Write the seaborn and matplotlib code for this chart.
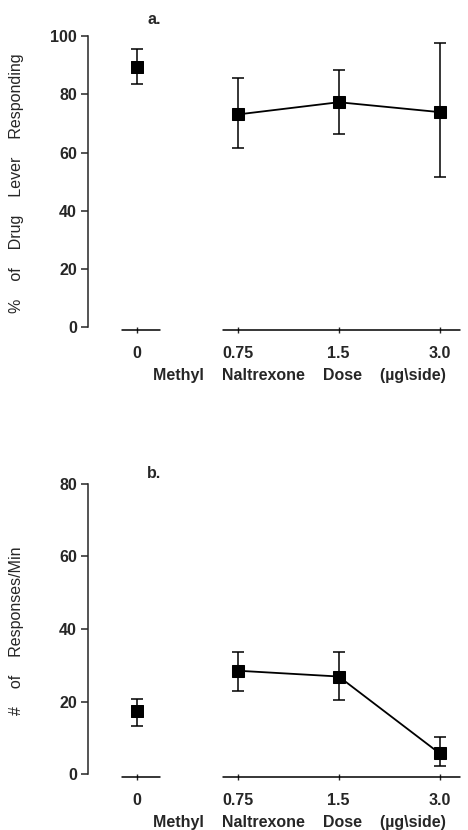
import numpy as np
import pandas as pd
import matplotlib
matplotlib.use("Agg")
import matplotlib.pyplot as plt
import seaborn as sns

# values
dose_labels = ["0", "0.75", "1.5", "3.0"]
dose_pos = [0, 1, 2, 3]

drug_mean = [89.5, 73.1, 77.3, 73.9]
drug_low = [83.6, 61.7, 66.4, 51.6]
drug_high = [95.5, 85.7, 88.3, 97.5]

rate_mean = [17.3, 28.5, 26.9, 5.7]
rate_low = [13.3, 22.9, 20.3, 2.2]
rate_high = [20.7, 33.7, 33.7, 10.2]

sns.set_style("ticks")
plt.rcParams['font.family'] = ['Liberation Sans', 'DejaVu Sans']

fig = plt.figure(figsize=(4.68, 8.30), dpi=100)
ax_a = fig.add_axes([0.188, 0.6024, 0.801, 0.354])
ax_b = fig.add_axes([0.188, 0.0639, 0.801, 0.353])


def draw_panel(ax, mean, low, high, ymax, ylabel):
    df = pd.DataFrame({"pos": dose_pos, "mean": mean,
                       "low": low, "high": high})
    yerr = [df["mean"] - df["low"], df["high"] - df["mean"]]
    ax.errorbar(df["pos"], df["mean"], yerr=yerr, fmt="none",
                ecolor="black", elinewidth=1.1, capsize=4, capthick=1.1,
                zorder=2)
    # the control point stands alone, the doses are connected
    sns.lineplot(data=df[df["pos"] > 0], x="pos", y="mean", ax=ax,
                 color="black", lw=1.3, marker="s", markersize=9,
                 markeredgecolor="black", zorder=3)
    sns.scatterplot(data=df[df["pos"] == 0], x="pos", y="mean", ax=ax,
                    color="black", marker="s", s=81, edgecolor="black",
                    zorder=3)

    ax.set_xlim(-0.485, 3.23)
    ax.set_ylim(-0.01 * ymax, ymax)
    ax.set_yticks(np.arange(0, ymax + 1, 20))
    ax.set_xticks(dose_pos)
    ax.set_xticklabels(dose_labels)

    sns.despine(ax=ax, top=True, right=True, bottom=True)
    ax.spines['left'].set_bounds(0, ymax)
    ax.spines['left'].set_linewidth(1.1)

    # broken x axis: control segment and dose segment
    tr = ax.get_xaxis_transform()
    ax.plot([dose_pos[0] - 0.15, dose_pos[0] + 0.23], [0, 0], color="black",
            lw=1.1, transform=tr, clip_on=False)
    ax.plot([dose_pos[1] - 0.15, dose_pos[3] + 0.2], [0, 0], color="black",
            lw=1.1, transform=tr, clip_on=False)

    ax.tick_params(axis="y", direction="out", length=5, width=1.1, pad=3,
                   labelsize=11.5)
    ax.tick_params(axis="x", direction="inout", length=5, width=1,
                   pad=9, labelsize=11.5)
    for t in ax.get_xticklabels() + ax.get_yticklabels():
        t.set_fontweight("bold")

    ax.set_ylabel(ylabel, fontsize=11.5, va="center")
    ax.yaxis.set_label_coords(-0.19, 0.5)
    ax.set_xlabel("Methyl    Naltrexone    Dose    (\u00b5g\\side)",
                  fontsize=11.5, fontweight="bold", va="center")
    ax.xaxis.set_label_coords(0.565, -0.155)


draw_panel(ax_a, drug_mean, drug_low, drug_high, 100,
           "%    of    Drug    Lever    Responding")
draw_panel(ax_b, rate_mean, rate_low, rate_high, 80,
           "#    of    Responses/Min")

fig.text(147 / 468, 1 - 20 / 830, "a.", fontsize=11.5, fontweight="bold",
         va="center")
fig.text(147 / 468, 1 - 473 / 830, "b.", fontsize=11.5, fontweight="bold",
         va="center")

fig.savefig("out.png", dpi=100)
